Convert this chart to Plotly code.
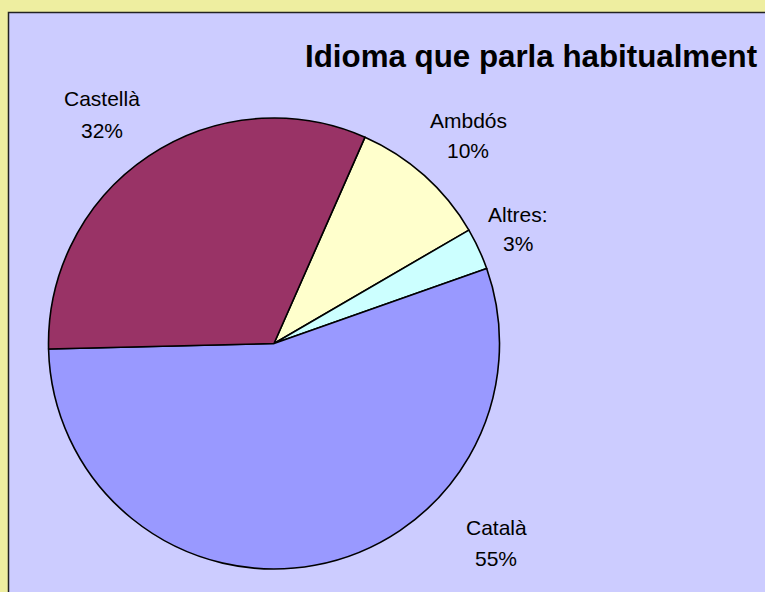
import plotly.graph_objects as go

# Data
labels = ["Ambdós", "Altres:", "Català", "Castellà"]
values = [10, 3, 55, 32]
colors = ["#FFFFCC", "#CCFFFF", "#9999FF", "#993366"]
title_text = "Idioma que parla habitualment"

W, H = 765, 592

fig = go.Figure()
fig.add_trace(go.Pie(
    labels=labels,
    values=values,
    sort=False,
    direction="clockwise",
    rotation=23.8,
    marker=dict(colors=colors, line=dict(color="#000000", width=1.6)),
    textinfo="none",
    hoverinfo="label+percent",
    showlegend=False,
    domain=dict(x=[48.5 / W, 499.5 / W], y=[1 - 569 / H, 1 - 118 / H]),
))

# label placement (pixel centres of name / percent lines)
label_pos = {
    "Castellà": (102, 99, 130),
    "Ambdós": (468, 120, 150),
    "Altres:": (518, 214, 243),
    "Català": (496, 527, 558),
}
total = sum(values)
annotations = []
for lab, val in zip(labels, values):
    x, y1, y2 = label_pos[lab]
    pct = f"{round(100 * val / total)}%"
    for txt, yy in ((lab, y1), (pct, y2)):
        annotations.append(dict(
            x=x / W, y=1 - yy / H, xref="paper", yref="paper",
            text=txt, showarrow=False, xanchor="center", yanchor="middle",
            font=dict(family="Liberation Sans, Arial, sans-serif", size=21, color="#000000"),
        ))

annotations.append(dict(
    x=303 / W, y=1 - 56 / H, xref="paper", yref="paper",
    text=f"<b>{title_text}</b>", showarrow=False, xanchor="left", yanchor="middle",
    font=dict(family="Liberation Sans, Arial, sans-serif", size=31.3, color="#000000"),
))

fig.update_layout(
    width=W, height=H,
    margin=dict(l=0, r=0, t=0, b=0),
    paper_bgcolor="#EEEEA0",
    plot_bgcolor="#CCCCFF",
    annotations=annotations,
    shapes=[dict(
        type="rect", xref="paper", yref="paper",
        x0=8.5 / W, x1=1.05, y0=-0.05, y1=1 - 12.5 / H,
        fillcolor="#CCCCFF", line=dict(color="#222222", width=1.5), layer="below",
    )],
)

fig.write_html(
    "out.html",
    config={"displayModeBar": False},
    post_script="document.body.style.margin='0';document.body.style.overflow='hidden';",
)
